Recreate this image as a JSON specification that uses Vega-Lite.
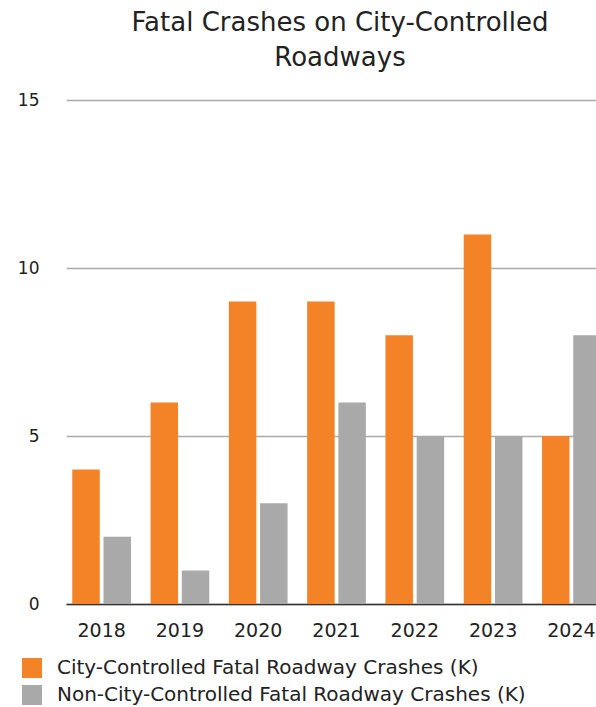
{
  "$schema": "https://vega.github.io/schema/vega-lite/v6.json",
  "autosize": {"type": "none"},
  "padding": {"left": 66, "top": 100, "right": 0, "bottom": 103},
  "width": 530,
  "height": 504,
  "background": "white",
  "title": {
    "text": ["Fatal Crashes on City-Controlled", "Roadways"],
    "font": "DejaVu Sans",
    "fontSize": 26,
    "fontWeight": "normal",
    "color": "#222222",
    "lineHeight": 35,
    "anchor": "middle",
    "dx": 9,
    "offset": 20
  },
  "data": {
    "values": [
      {"year": "2018", "series": "City-Controlled Fatal Roadway Crashes (K)", "value": 4},
      {"year": "2018", "series": "Non-City-Controlled Fatal Roadway Crashes (K)", "value": 2},
      {"year": "2019", "series": "City-Controlled Fatal Roadway Crashes (K)", "value": 6},
      {"year": "2019", "series": "Non-City-Controlled Fatal Roadway Crashes (K)", "value": 1},
      {"year": "2020", "series": "City-Controlled Fatal Roadway Crashes (K)", "value": 9},
      {"year": "2020", "series": "Non-City-Controlled Fatal Roadway Crashes (K)", "value": 3},
      {"year": "2021", "series": "City-Controlled Fatal Roadway Crashes (K)", "value": 9},
      {"year": "2021", "series": "Non-City-Controlled Fatal Roadway Crashes (K)", "value": 6},
      {"year": "2022", "series": "City-Controlled Fatal Roadway Crashes (K)", "value": 8},
      {"year": "2022", "series": "Non-City-Controlled Fatal Roadway Crashes (K)", "value": 5},
      {"year": "2023", "series": "City-Controlled Fatal Roadway Crashes (K)", "value": 11},
      {"year": "2023", "series": "Non-City-Controlled Fatal Roadway Crashes (K)", "value": 5},
      {"year": "2024", "series": "City-Controlled Fatal Roadway Crashes (K)", "value": 5},
      {"year": "2024", "series": "Non-City-Controlled Fatal Roadway Crashes (K)", "value": 8}
    ]
  },
  "mark": {"type": "bar"},
  "encoding": {
    "x": {
      "field": "year",
      "type": "nominal",
      "scale": {"range": [0, 541], "paddingInner": 0.25, "paddingOuter": 0.08},
      "axis": {
        "title": null,
        "labelAngle": 0,
        "ticks": false,
        "labelPadding": 17,
        "labelFont": "DejaVu Sans",
        "labelFontSize": 19,
        "labelColor": "#222222",
        "domainColor": "#333333",
        "domainWidth": 1.5,
        "grid": false
      }
    },
    "xOffset": {
      "field": "series",
      "type": "nominal",
      "scale": {"paddingInner": 0.12}
    },
    "y": {
      "field": "value",
      "type": "quantitative",
      "scale": {"domain": [0, 15]},
      "axis": {
        "title": null,
        "values": [0, 5, 10, 15],
        "ticks": false,
        "domain": false,
        "labelPadding": 27,
        "labelFont": "DejaVu Sans",
        "labelFontSize": 17,
        "labelColor": "#222222",
        "gridColor": "#aaaaaa",
        "gridWidth": 1.5
      }
    },
    "color": {
      "field": "series",
      "type": "nominal",
      "scale": {
        "domain": ["City-Controlled Fatal Roadway Crashes (K)", "Non-City-Controlled Fatal Roadway Crashes (K)"],
        "range": ["#F48226", "#A9A9A9"]
      },
      "legend": {
        "title": null,
        "orient": "none",
        "legendX": -44,
        "legendY": 558,
        "direction": "vertical",
        "symbolType": "square",
        "symbolSize": 400,
        "symbolStrokeWidth": 0,
        "symbolOpacity": 1,
        "labelFont": "DejaVu Sans",
        "labelFontSize": 20,
        "labelColor": "#222222",
        "labelOffset": 15,
        "rowPadding": 7,
        "labelLimit": 600
      }
    }
  },
  "config": {"view": {"stroke": null}}
}
